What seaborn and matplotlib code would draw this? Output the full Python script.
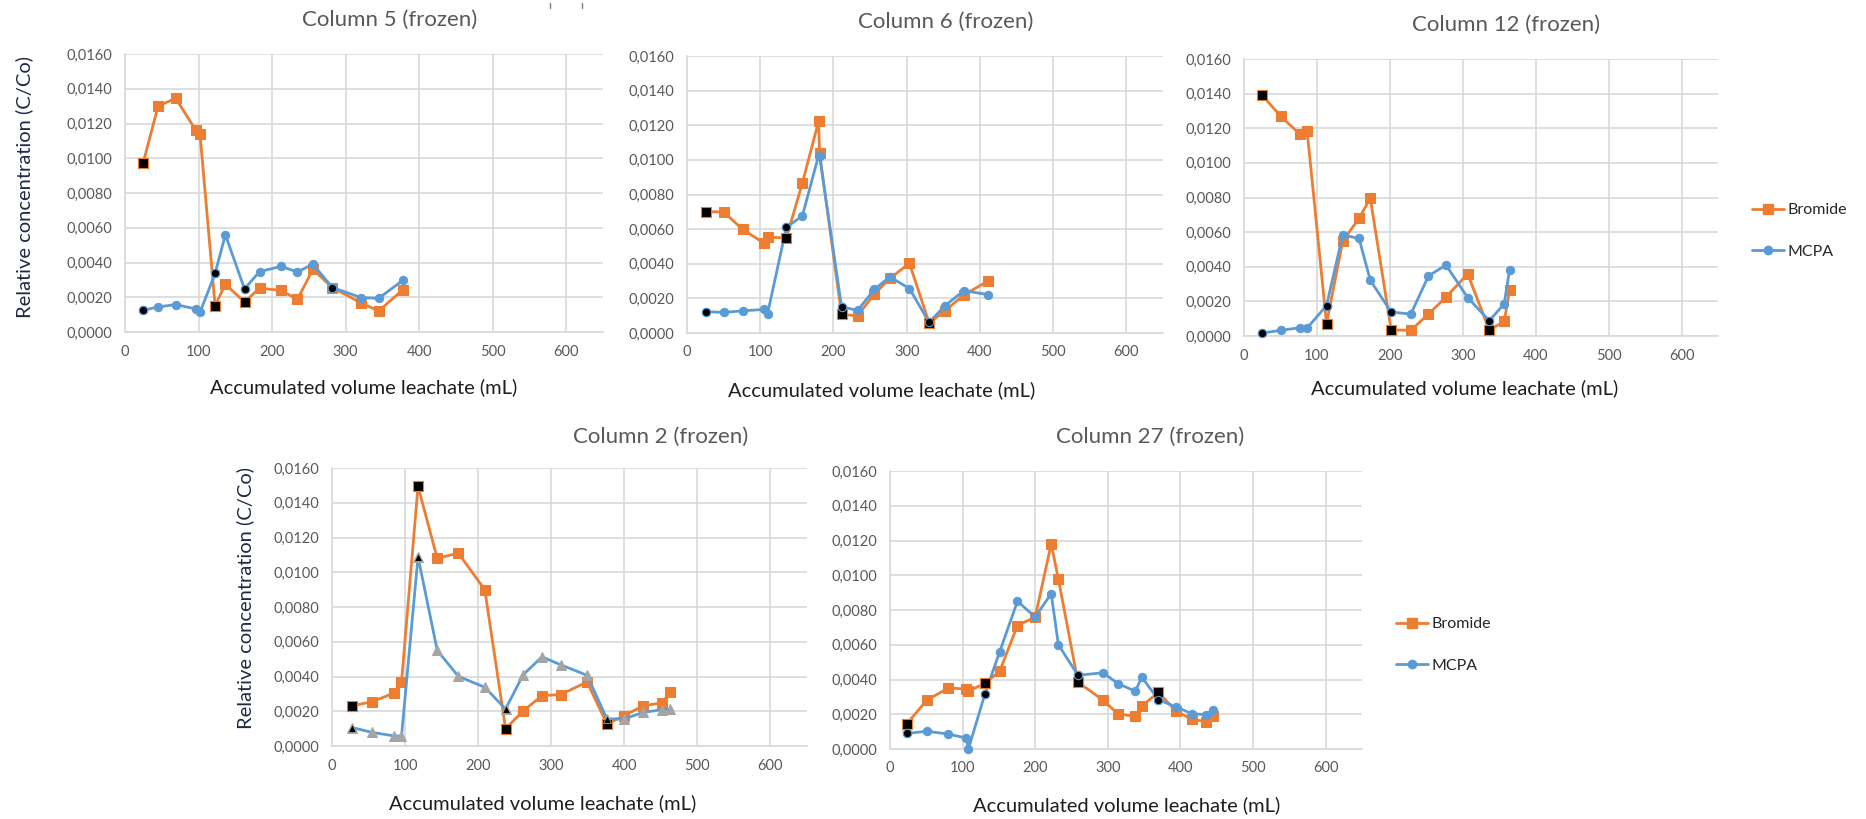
import numpy as np
import pandas as pd
import matplotlib
matplotlib.use("Agg")
import matplotlib.pyplot as plt
from matplotlib.lines import Line2D
from matplotlib.ticker import FuncFormatter
import seaborn as sns

sns.set_theme(style="white")
plt.rcParams['font.family'] = ['Lato', 'DejaVu Sans']

# ---------------- data ----------------
series_names = ["Bromide", "MCPA"]

# Column 5 (frozen)
c5_vol = [24.5, 45, 69, 96, 102, 122.5, 136.5, 162.5, 183, 212, 234.5, 255.5, 282, 321, 345, 378]
c5_bromide = [0.0097, 0.0130, 0.01345, 0.01163, 0.0114, 0.00152, 0.00275, 0.00173, 0.00252, 0.0024,
              0.00188, 0.0036, 0.00256, 0.00167, 0.00121, 0.00244]
c5_mcpa = [0.00125, 0.00144, 0.00158, 0.00133, 0.00113, 0.00337, 0.0056, 0.00248, 0.00348, 0.00377,
           0.00346, 0.0039, 0.00256, 0.00198, 0.00194, 0.00298]
c5_black_bromide = [0, 5, 7]
c5_black_mcpa = [0, 5, 7, 12]

# Column 6 (frozen)
c6_vol = [26, 50, 76, 105, 110, 135.7, 157.6, 179.6, 181, 211, 233, 256, 277, 303.7, 330.7, 352, 378, 411.5]
c6_bromide = [0.0070, 0.0070, 0.00598, 0.0052, 0.00554, 0.00549, 0.00867, 0.01222, 0.0104, 0.00107,
              0.0010, 0.00226, 0.00315, 0.00403, 0.00058, 0.00127, 0.0022, 0.00301]
c6_mcpa = [0.00123, 0.00119, 0.00128, 0.00136, 0.00111, 0.0061, 0.00677, 0.01024, 0.01024, 0.00153,
           0.0013, 0.00253, 0.00324, 0.00257, 0.00061, 0.00157, 0.00244, 0.00222]
c6_black_bromide = [0, 5, 9, 14]
c6_black_mcpa = [0, 5, 9, 14]

# Column 12 (frozen)
c12_vol = [25, 50.7, 76.7, 86.6, 113.2, 135.4, 157.7, 173.2, 201.8, 228.8, 253, 277, 306.7, 336.4, 356.8, 364.3]
c12_bromide = [0.0139, 0.01268, 0.01166, 0.01182, 0.00071, 0.00549, 0.00679, 0.00796, 0.00035, 0.00033,
               0.00127, 0.00224, 0.00359, 0.00035, 0.00084, 0.00265]
c12_mcpa = [0.00017, 0.00033, 0.00048, 0.00046, 0.00176, 0.00583, 0.00564, 0.00322, 0.00138, 0.00127,
            0.00347, 0.0041, 0.00222, 0.00088, 0.00186, 0.00384]
c12_black_bromide = [0, 4, 8, 13]
c12_black_mcpa = [0, 4, 8, 13]

# Column 2 (frozen)
c2_vol = [27.9, 54.1, 84.6, 95.1, 117.7, 144, 172.9, 209.1, 237.5, 261.7, 287.4, 313.2, 349, 376.2, 400, 426, 452, 462.4]
c2_bromide = [0.00232, 0.00254, 0.00304, 0.00369, 0.01495, 0.0108, 0.0111, 0.00899, 0.0010, 0.00202,
              0.0029, 0.00296, 0.00369, 0.00127, 0.00175, 0.00232, 0.00248, 0.00311]
c2_mcpa = [0.00106, 0.00079, 0.00058, 0.00056, 0.01089, 0.0055, 0.00401, 0.00338, 0.00213, 0.00411,
           0.00513, 0.00467, 0.00407, 0.00156, 0.00156, 0.00194, 0.00209, 0.00211]
c2_black_bromide = [0, 4, 8, 13]
c2_black_mcpa = [0, 4, 8, 13]

# Column 27 (frozen)
c27_vol = [23, 50.9, 80.4, 104.9, 108, 130.6, 150.9, 175.5, 200, 222, 231.9, 258.9, 293.3, 314.1, 338,
           346.6, 369.6, 393.9, 416, 435, 445.4]
c27_bromide = [0.00144, 0.00282, 0.00351, 0.00345, 0.00332, 0.00378, 0.00447, 0.0071, 0.0076, 0.01181,
               0.00978, 0.00384, 0.00282, 0.00201, 0.00188, 0.00247, 0.00326, 0.00217, 0.00171, 0.00157, 0.00188]
c27_mcpa = [0.0009, 0.00102, 0.00086, 0.00063, 0.0, 0.00315, 0.00558, 0.0085, 0.0076, 0.00894,
            0.0060, 0.00424, 0.00439, 0.00376, 0.00332, 0.00414, 0.00284, 0.00242, 0.00203, 0.00198, 0.00226]
c27_black_bromide = [0, 5, 11, 16]
c27_black_mcpa = [0, 5, 11, 16]

titles = ["Column 5 (frozen)", "Column 6 (frozen)", "Column 12 (frozen)", "Column 2 (frozen)", "Column 27 (frozen)"]
x_label = "Accumulated volume leachate (mL)"
y_label = "Relative concentration (C/Co)"
x_ticks = [0, 100, 200, 300, 400, 500, 600]
y_ticks = [0.0, 0.002, 0.004, 0.006, 0.008, 0.010, 0.012, 0.014, 0.016]

# ---------------- style / layout ----------------
W, H = 1866, 819
ORANGE = "#ED7D31"
BLUE = "#5B9BD5"
GREY_MK = "#A5A5A5"
GRID = "#D9D9D9"
TXT = "#595959"

fig = plt.figure(figsize=(W / 100, H / 100), dpi=100)
fig.patch.set_facecolor("white")


def px_rect(l, r, t, b):
    return [l / W, 1 - b / H, (r - l) / W, (b - t) / H]


def ftext(x, y, s, **kw):
    fig.text(x / W, 1 - y / H, s, **kw)


panels = [
    dict(vol=c5_vol, br=c5_bromide, mc=c5_mcpa, bb=c5_black_bromide, bm=c5_black_mcpa,
         rect=(125, 603, 54, 332), mcpa_marker="o"),
    dict(vol=c6_vol, br=c6_bromide, mc=c6_mcpa, bb=c6_black_bromide, bm=c6_black_mcpa,
         rect=(687, 1163, 56, 333), mcpa_marker="o"),
    dict(vol=c12_vol, br=c12_bromide, mc=c12_mcpa, bb=c12_black_bromide, bm=c12_black_mcpa,
         rect=(1244, 1718, 59, 336), mcpa_marker="o"),
    dict(vol=c2_vol, br=c2_bromide, mc=c2_mcpa, bb=c2_black_bromide, bm=c2_black_mcpa,
         rect=(332, 807, 468, 746), mcpa_marker="^"),
    dict(vol=c27_vol, br=c27_bromide, mc=c27_mcpa, bb=c27_black_bromide, bm=c27_black_mcpa,
         rect=(890, 1362, 471, 749), mcpa_marker="o"),
]

fmt = FuncFormatter(lambda v, p: f"{v:.4f}".replace(".", ","))

for p in panels:
    ax = fig.add_axes(px_rect(*p["rect"]))
    df = pd.DataFrame({
        "vol": list(p["vol"]) * 2,
        "conc": list(p["br"]) + list(p["mc"]),
        "series": [series_names[0]] * len(p["vol"]) + [series_names[1]] * len(p["vol"]),
    })
    dbr = df[df.series == "Bromide"]
    dmc = df[df.series == "MCPA"]
    sns.lineplot(data=dbr, x="vol", y="conc", ax=ax, color=ORANGE, sort=False, estimator=None,
                 marker="s", markersize=6.5, markerfacecolor=ORANGE, markeredgecolor=ORANGE,
                 linewidth=2.0, clip_on=False, zorder=3, legend=False)
    if p["mcpa_marker"] == "^":
        sns.lineplot(data=dmc, x="vol", y="conc", ax=ax, color=BLUE, sort=False, estimator=None,
                     marker="^", markersize=7, markerfacecolor=GREY_MK, markeredgecolor=GREY_MK,
                     linewidth=2.0, clip_on=False, zorder=4, legend=False)
    else:
        sns.lineplot(data=dmc, x="vol", y="conc", ax=ax, color=BLUE, sort=False, estimator=None,
                     marker="o", markersize=6, markerfacecolor=BLUE, markeredgecolor=BLUE,
                     linewidth=2.0, clip_on=False, zorder=4, legend=False)
    # highlighted (black) points
    hb = dbr.iloc[p["bb"]]
    ax.plot(hb["vol"], hb["conc"], linestyle="none", marker="s", markersize=6.5,
            markerfacecolor="black", markeredgecolor=ORANGE, markeredgewidth=0.8, zorder=5, clip_on=False)
    hm = dmc.iloc[p["bm"]]
    if p["mcpa_marker"] == "^":
        ax.plot(hm["vol"], hm["conc"], linestyle="none", marker="^", markersize=6,
                markerfacecolor="black", markeredgecolor=GREY_MK, markeredgewidth=0.6, zorder=6, clip_on=False)
    else:
        ax.plot(hm["vol"], hm["conc"], linestyle="none", marker="o", markersize=6,
                markerfacecolor="black", markeredgecolor=BLUE, markeredgewidth=0.8, zorder=6, clip_on=False)

    ax.set_xlim(0, 650)
    ax.set_ylim(0, 0.016)
    ax.set_xticks(x_ticks)
    ax.set_yticks(y_ticks)
    ax.yaxis.set_major_formatter(fmt)
    ax.grid(True, color=GRID, linewidth=1.2)
    ax.set_axisbelow(True)
    for s in ["top", "right"]:
        ax.spines[s].set_visible(False)
    for s in ["left", "bottom"]:
        ax.spines[s].set_color(GRID)
        ax.spines[s].set_linewidth(1.2)
    ax.tick_params(axis="both", length=0, labelsize=10.5, labelcolor=TXT, pad=9)
    ax.set_xlabel("")
    ax.set_ylabel("")
    ax.set_facecolor("white")

# titles
title_pos = [(390, 20), (946, 22), (1506, 25), (661, 437), (1150, 437)]
for (x, y), t in zip(title_pos, titles):
    ftext(x, y, t, ha="center", va="center", fontsize=16, color=TXT)

# x labels
xl_pos = [(364, 387), (882, 390), (1465, 388), (543, 803), (1127, 805)]
for x, y in xl_pos:
    ftext(x, y, x_label, ha="center", va="center", fontsize=14.5, color="#1f1f1f")

# y labels
for x, y in [(24, 187), (245, 598)]:
    ftext(x, y, y_label, ha="center", va="center", rotation=90, fontsize=14.5, color="#1F2A44")

# legends
handles = [
    Line2D([], [], color=ORANGE, marker="s", markersize=6.5, linewidth=2.0),
    Line2D([], [], color=BLUE, marker="o", markersize=6, linewidth=2.0),
]
for lx, ly in [(1752, 231), (1396, 645)]:
    fig.legend(handles, series_names, loc="center left", bbox_to_anchor=(lx / W, 1 - ly / H),
               frameon=False, fontsize=11.5, handlelength=2.0, handletextpad=0.2,
               labelspacing=1.7, labelcolor="#262626", borderaxespad=0, borderpad=0)

# small marks at the top (cropping artefacts in the original)
for mx in (550, 582):
    fig.add_artist(Line2D([mx / W, mx / W], [1 - 3 / H, 1 - 8 / H], color="#7f7f7f", linewidth=1))

fig.savefig("out.png", dpi=100, facecolor="white")
